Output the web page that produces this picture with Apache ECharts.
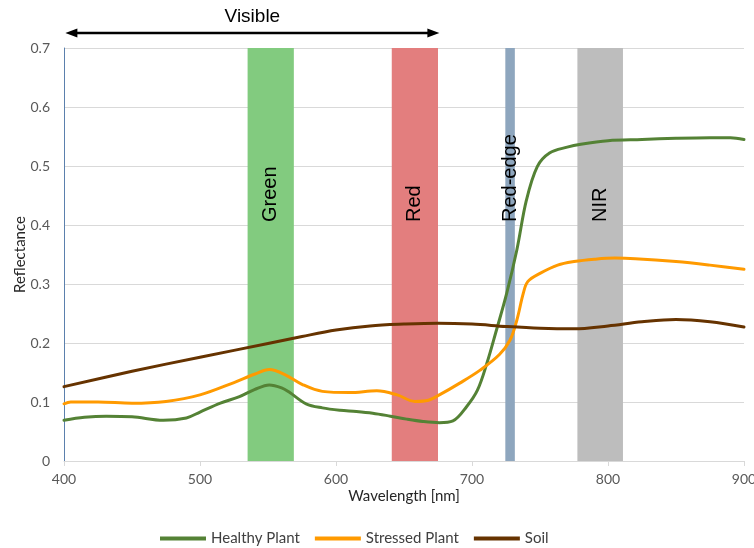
<!DOCTYPE html>
<html>
<head>
<meta charset="utf-8">
<script src="https://cdn.jsdelivr.net/npm/echarts@6/dist/echarts.min.js"></script>
<style>
  html, body { margin: 0; padding: 0; background: #ffffff; overflow: hidden; }
  #chart { width: 754px; height: 548px; }
</style>
</head>
<body>
<div id="chart"></div>
<script>
// Spectral reflectance curves (wavelength in nm, reflectance 0..1)
const healthyNm = [400, 415, 431, 450, 473, 490, 500, 515, 529, 540, 551, 560, 566, 578, 590, 603, 615, 627, 640, 652, 664, 676, 686, 696, 704, 711, 718, 725.5, 733, 740, 748, 757, 770, 780, 800, 825, 850, 875, 890, 900];
const healthyR  = [0.069, 0.074, 0.076, 0.075, 0.069, 0.073, 0.083, 0.098, 0.109, 0.121, 0.129, 0.124, 0.116, 0.097, 0.090, 0.086, 0.084, 0.081, 0.076, 0.071, 0.067, 0.065, 0.068, 0.092, 0.120, 0.166, 0.222, 0.284, 0.358, 0.442, 0.499, 0.522, 0.532, 0.537, 0.543, 0.545, 0.547, 0.548, 0.548, 0.545];

const stressedNm = [400, 405, 425, 450, 475, 500, 525, 540, 551, 562, 575, 590, 610, 630, 645, 658, 668, 676, 691, 706, 720, 728, 733, 737.7, 741, 750, 763, 775, 790, 805, 820, 850, 875, 900];
const stressedR  = [0.097, 0.100, 0.100, 0.098, 0.101, 0.112, 0.133, 0.147, 0.155, 0.147, 0.130, 0.118, 0.116, 0.119, 0.112, 0.101, 0.103, 0.112, 0.132, 0.154, 0.180, 0.205, 0.239, 0.284, 0.304, 0.318, 0.332, 0.338, 0.342, 0.344, 0.343, 0.338, 0.332, 0.325];

const soilNm = [400, 450, 500, 550, 575, 600, 625, 650, 675, 700, 725, 750, 775, 800, 825, 850, 875, 900];
const soilR  = [0.126, 0.152, 0.176, 0.199, 0.211, 0.222, 0.229, 0.232, 0.2335, 0.232, 0.228, 0.225, 0.224, 0.229, 0.236, 0.240, 0.236, 0.227];

// Spectral bands shaded behind the curves
const bandNames = ['Green', 'Red', 'Red-edge', 'NIR'];
const bandStart = [535, 641, 724.5, 777.5];
const bandEnd   = [569, 675, 731.5, 811];

// Visible range marked with a double arrow above the plot
const visibleLabel = 'Visible';
const visibleRange = [401, 676];

const xTicks = { min: 400, max: 900, step: 100 };
const yTicks = { min: 0, max: 0.7, step: 0.1 };

const seriesNames = ['Healthy Plant', 'Stressed Plant', 'Soil'];
const seriesColors = ['#548235', '#ff9a00', '#663300'];
const bandColors = ['#82cb7f', '#e37e7e', '#8ea6be', '#bdbdbd'];

const pair = (xs, ys) => xs.map((x, i) => [x, ys[i]]);

const chart = echarts.init(document.getElementById('chart'), null, { renderer: 'canvas' });

const lineSeries = (name, data, color) => ({
  name: name,
  type: 'line',
  data: data,
  smooth: 0.35,
  showSymbol: false,
  symbol: 'none',
  lineStyle: { color: color, width: 3, cap: 'round', join: 'round' },
  itemStyle: { color: color },
  z: 3,
  animation: false
});

const option = {
  backgroundColor: '#ffffff',
  animation: false,
  grid: { left: 64, right: 10, top: 48, bottom: 87, containLabel: false, outerBoundsMode: 'none' },
  legend: {
    data: seriesNames.map(n => ({ name: n, icon: 'rect' })),
    left: 155,
    top: 526,
    itemWidth: 46,
    itemHeight: 4,
    itemGap: 15,
    textStyle: { fontFamily: 'Lato', fontSize: 15, color: '#404040' }
  },
  xAxis: {
    type: 'value',
    min: xTicks.min,
    max: xTicks.max,
    interval: xTicks.step,
    name: 'Wavelength [nm]',
    nameLocation: 'middle',
    nameGap: 28,
    nameMoveOverlap: false,
    nameTextStyle: { fontFamily: 'Lato', fontSize: 15, color: '#262626' },
    axisLine: { lineStyle: { color: '#d9d9d9', width: 1 } },
    axisTick: { show: true, length: 5, lineStyle: { color: '#d9d9d9' } },
    axisLabel: { fontFamily: 'Lato', fontSize: 14, color: '#595959', margin: 11 },
    splitLine: { show: false }
  },
  yAxis: {
    type: 'value',
    min: yTicks.min,
    max: yTicks.max,
    interval: yTicks.step,
    name: 'Reflectance',
    nameLocation: 'middle',
    nameGap: 36,
    nameMoveOverlap: false,
    nameTextStyle: { fontFamily: 'Lato', fontSize: 15, color: '#262626' },
    axisLine: { show: true, lineStyle: { color: '#5b80ad', width: 1 } },
    axisTick: { show: false },
    axisLabel: {
      fontFamily: 'Lato', fontSize: 14, color: '#595959', margin: 14,
      formatter: v => (Math.round(v * 10) / 10).toString()
    },
    splitLine: { show: true, lineStyle: { color: '#d9d9d9', width: 1 } }
  },
  series: [
    {
      name: 'bands',
      type: 'custom',
      z: 1,
      silent: true,
      data: bandNames.map((n, i) => [bandStart[i], bandEnd[i], i]),
      encode: { x: [0, 1] },
      renderItem: function (params, api) {
        const i = api.value(2);
        const topLeft = api.coord([api.value(0), yTicks.max]);
        const botRight = api.coord([api.value(1), yTicks.min]);
        const labelAnchor = api.coord([(api.value(0) + api.value(1)) / 2, 0.405]);
        return {
          type: 'group',
          children: [
            {
              type: 'rect',
              shape: {
                x: topLeft[0], y: topLeft[1],
                width: botRight[0] - topLeft[0], height: botRight[1] - topLeft[1]
              },
              style: { fill: bandColors[i] }
            },
            {
              type: 'text',
              x: labelAnchor[0],
              y: labelAnchor[1],
              rotation: Math.PI / 2,
              z2: 10,
              style: {
                text: bandNames[i],
                fill: '#000000',
                font: '20px "Liberation Sans", Arial, sans-serif',
                align: 'left',
                verticalAlign: 'middle'
              }
            }
          ]
        };
      }
    },
    {
      name: 'visible',
      type: 'custom',
      z: 4,
      silent: true,
      clip: false,
      data: [[visibleRange[0], visibleRange[1]]],
      encode: { x: [0, 1] },
      renderItem: function (params, api) {
        const a = api.coord([api.value(0), yTicks.max]);
        const b = api.coord([api.value(1), yTicks.max]);
        const y = a[1] - 15;
        const head = 12, half = 4.5;
        return {
          type: 'group',
          children: [
            {
              type: 'line',
              shape: { x1: a[0] + head - 2, y1: y, x2: b[0] - head + 2, y2: y },
              style: { stroke: '#000000', lineWidth: 2.6 }
            },
            {
              type: 'polygon',
              shape: { points: [[a[0], y], [a[0] + head, y - half], [a[0] + head, y + half]] },
              style: { fill: '#000000' }
            },
            {
              type: 'polygon',
              shape: { points: [[b[0], y], [b[0] - head, y - half], [b[0] - head, y + half]] },
              style: { fill: '#000000' }
            },
            {
              type: 'text',
              x: (a[0] + b[0]) / 2,
              y: y - 16,
              style: {
                text: visibleLabel,
                fill: '#000000',
                font: '19px "Liberation Sans", Arial, sans-serif',
                align: 'center',
                verticalAlign: 'middle'
              }
            }
          ]
        };
      }
    },
    lineSeries(seriesNames[0], pair(healthyNm, healthyR), seriesColors[0]),
    lineSeries(seriesNames[1], pair(stressedNm, stressedR), seriesColors[1]),
    lineSeries(seriesNames[2], pair(soilNm, soilR), seriesColors[2])
  ]
};

chart.setOption(option);
</script>
</body>
</html>
